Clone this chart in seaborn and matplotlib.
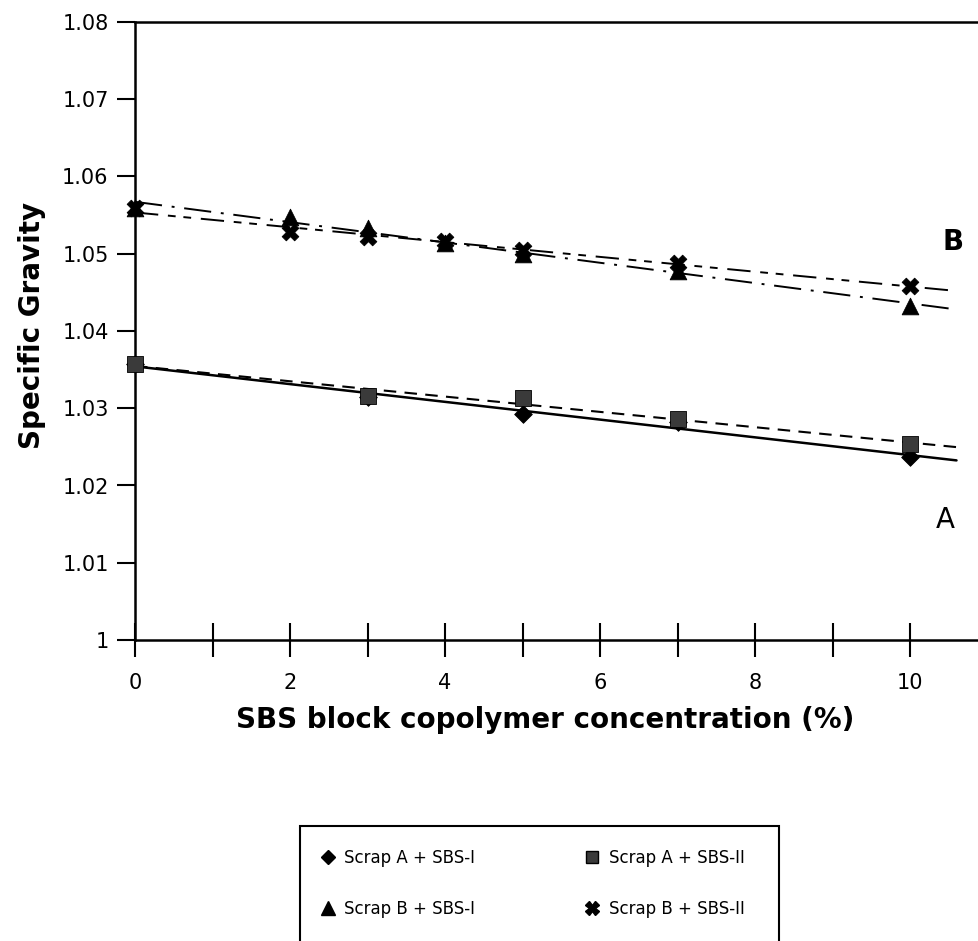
import numpy as np
import pandas as pd
import matplotlib
matplotlib.use("Agg")
import matplotlib.pyplot as plt
import seaborn as sns
from matplotlib.lines import Line2D
from matplotlib.patches import Rectangle

sns.set_theme(style="white")
plt.rcParams['font.family'] = ['DejaVu Sans']
plt.rcParams['text.color'] = 'black'
plt.rcParams['axes.labelcolor'] = 'black'
plt.rcParams['xtick.color'] = 'black'
plt.rcParams['ytick.color'] = 'black'

# ---- data ----
x_A = [0, 3, 5, 7, 10]
A_SBS_I = [1.0357, 1.0315, 1.0293, 1.0282, 1.0237]
A_SBS_II = [1.0357, 1.0316, 1.0313, 1.0286, 1.0254]
x_B = [0, 2, 3, 4, 5, 7, 10]
B_SBS_I = [1.0559, 1.0547, 1.0533, 1.0514, 1.0500, 1.0478, 1.0432]
B_SBS_II = [1.0559, 1.0528, 1.0522, 1.0517, 1.0505, 1.0488, 1.0458]
series_names = ["Scrap A + SBS-I", "Scrap A + SBS-II", "Scrap B + SBS-I", "Scrap B + SBS-II"]
x_ticks = [0, 2, 4, 6, 8, 10]
y_ticks = [1.00, 1.01, 1.02, 1.03, 1.04, 1.05, 1.06, 1.07, 1.08]
y_ticklabels = ["1", "1.01", "1.02", "1.03", "1.04", "1.05", "1.06", "1.07", "1.08"]

W, H = 979, 941
fig = plt.figure(figsize=(W / 100, H / 100), dpi=100)
x0, x1 = 135, 135 + 11 * 77.5
y_top, y_bot = 22, 640
ax = fig.add_axes([x0 / W, (H - y_bot) / H, (x1 - x0) / W, (y_bot - y_top) / H])
ax.set_xlim(0, 11)
ax.set_ylim(1.0, 1.08)

styles = {
    series_names[0]: dict(marker="D", ms=9, ls="-", lw=1.8, mfc="black"),
    series_names[1]: dict(marker="s", ms=11, ls=(0, (6, 4)), lw=1.5, mfc="#3a3a3a"),
    series_names[2]: dict(marker="^", ms=12, ls=(0, (14, 5, 1.5, 5)), lw=1.4, mfc="black"),
    series_names[3]: dict(marker="X", ms=12, ls=(0, (12, 5, 4, 4, 4, 5)), lw=1.4, mfc="black"),
}
data = [(series_names[0], x_A, A_SBS_I), (series_names[1], x_A, A_SBS_II),
        (series_names[2], x_B, B_SBS_I), (series_names[3], x_B, B_SBS_II)]

xfit = np.linspace(0, 10.6, 50)
for name, xs, ys in data:
    st = styles[name]
    coef = np.polyfit(xs, ys, 1)
    fit_df = pd.DataFrame({"x": xfit, "y": np.polyval(coef, xfit)})
    sns.lineplot(data=fit_df, x="x", y="y", ax=ax, color="black", lw=st["lw"],
                 linestyle=st["ls"], zorder=2)
    pts = pd.DataFrame({"x": xs, "y": ys})
    sns.scatterplot(data=pts, x="x", y="y", ax=ax, marker=st["marker"],
                    s=st["ms"] ** 2, color=st["mfc"], edgecolor="black",
                    linewidth=0.6, zorder=3, clip_on=False)

ax.spines["right"].set_visible(False)
for side in ["left", "bottom", "top"]:
    ax.spines[side].set_color("black")
    ax.spines[side].set_linewidth(1.8)

ax.set_xticks(range(0, 11))
ax.set_xticklabels([str(v) if v in x_ticks else "" for v in range(0, 11)])
ax.set_yticks(y_ticks)
ax.set_yticklabels(y_ticklabels)
ax.tick_params(axis="x", direction="inout", length=24, width=1.5, labelsize=15,
               pad=12, colors="black", bottom=True)
ax.tick_params(axis="y", direction="out", length=13, width=1.5, labelsize=15,
               pad=6, colors="black", left=True)
ax.grid(False)

ax.set_xlabel("")
ax.set_ylabel("")
fig.text(545 / W, 1 - 720 / H, "SBS block copolymer concentration (%)",
         ha="center", va="center", fontsize=20, fontweight="bold")
fig.text(32 / W, 1 - 325 / H, "Specific Gravity", ha="center", va="center",
         rotation=90, fontsize=20, fontweight="bold")

ax.text(10.55, 1.0515, "B", fontsize=20, fontweight="bold", ha="center", va="center")
ax.text(10.45, 1.0155, "A", fontsize=20, ha="center", va="center")

handles = [Line2D([], [], ls="none", marker=styles[n]["marker"], ms=styles[n]["ms"] * 0.8,
                  mfc=styles[n]["mfc"], mec="black", color="black") for n in series_names]
order = [0, 2, 1, 3]
leg = fig.legend([handles[i] for i in order], [series_names[i] for i in order],
                 ncol=2, loc="upper left", bbox_to_anchor=(306 / W, 1 - 834 / H),
                 frameon=False, fontsize=12, handlelength=0.8,
                 handletextpad=0.6, columnspacing=6.6, labelspacing=1.95,
                 borderpad=0.4)
fig.patches.append(Rectangle((300 / W, 1 - 960 / H), 479 / W, 134 / H,
                             transform=fig.transFigure, fill=False,
                             edgecolor="black", linewidth=1.5))

fig.savefig("out.png", dpi=100)
